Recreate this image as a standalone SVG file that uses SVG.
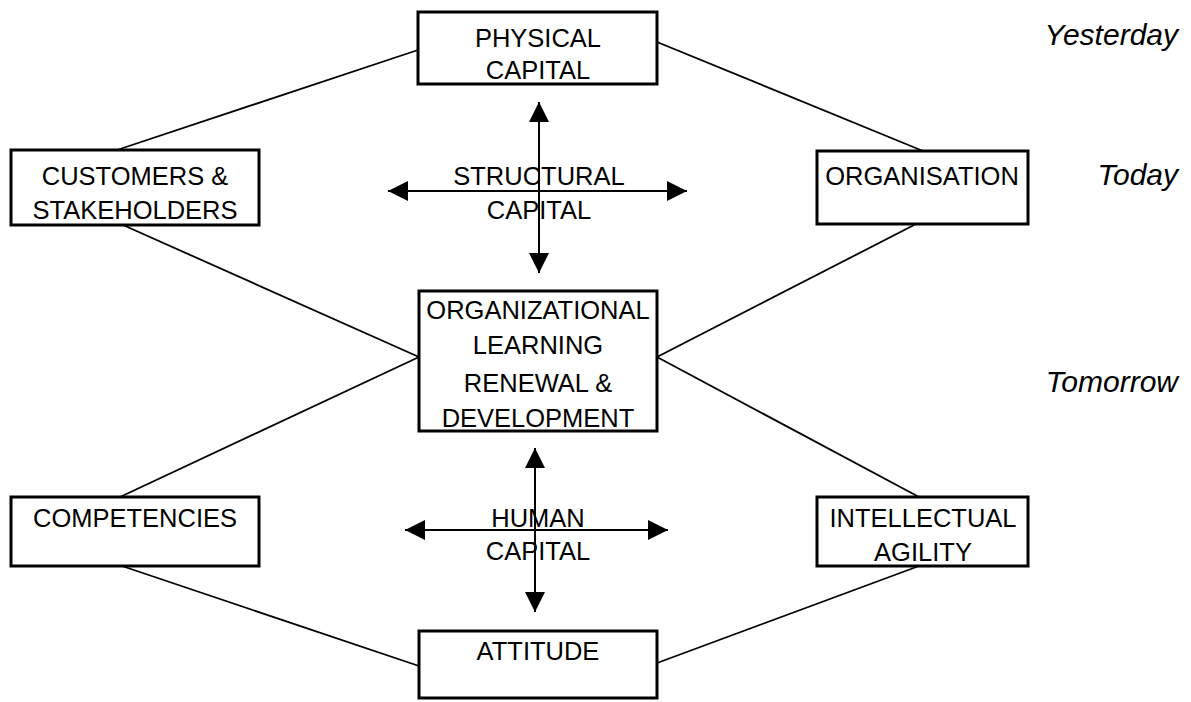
<svg xmlns="http://www.w3.org/2000/svg" width="1191" height="702" viewBox="0 0 1191 702">
  <style>
    .box { fill: #ffffff; stroke: #000000; stroke-width: 3; }
    .lbl { font-family: "Liberation Sans", Arial, sans-serif; font-size: 25.5px; fill: #000000; text-anchor: middle; }
    .time { font-family: "Liberation Sans", Arial, sans-serif; font-size: 30px; font-style: italic; fill: #000000; text-anchor: end; }
    .conn { stroke: #000000; stroke-width: 1.8; fill: none; }
    .arr { stroke: #000000; stroke-width: 2; fill: none; marker-start: url(#head); marker-end: url(#head); }
  </style>
  <defs>
    <marker id="head" viewBox="0 0 20 20" refX="20" refY="10" markerWidth="20" markerHeight="20" markerUnits="userSpaceOnUse" orient="auto-start-reverse">
      <path d="M0,0 L20,10 L0,20 Z" fill="#000000"/>
    </marker>
  </defs>
  <rect width="1191" height="702" fill="#ffffff"/>

  <g id="connectors">
    <line class="conn" x1="117" y1="150" x2="418" y2="50"/>
    <line class="conn" x1="657" y1="42" x2="923" y2="151"/>
    <line class="conn" x1="123" y1="225" x2="419" y2="357"/>
    <line class="conn" x1="916" y1="224" x2="657" y2="357"/>
    <line class="conn" x1="419" y1="357" x2="120" y2="497"/>
    <line class="conn" x1="657" y1="357" x2="919" y2="497"/>
    <line class="conn" x1="122" y1="566" x2="419" y2="666"/>
    <line class="conn" x1="919" y1="566" x2="657" y2="663"/>
  </g>

  <g id="physical-capital">
    <rect class="box" x="418" y="12" width="239" height="72"/>
    <text class="lbl" x="538" y="47">PHYSICAL</text>
    <text class="lbl" x="538" y="79">CAPITAL</text>
  </g>

  <g id="customers">
    <rect class="box" x="11" y="150" width="248" height="75"/>
    <text class="lbl" x="135" y="185">CUSTOMERS &amp;</text>
    <text class="lbl" x="135" y="219">STAKEHOLDERS</text>
  </g>

  <g id="organisation">
    <rect class="box" x="817" y="151" width="211" height="73"/>
    <text class="lbl" x="922" y="185">ORGANISATION</text>
  </g>

  <g id="structural-capital">
    <text class="lbl" x="539" y="185">STRUCTURAL</text>
    <text class="lbl" x="539" y="219">CAPITAL</text>
    <line class="arr" x1="539" y1="102" x2="539" y2="273"/>
    <line class="arr" x1="388" y1="191" x2="687" y2="191"/>
  </g>

  <g id="organizational-learning">
    <rect class="box" x="419" y="291" width="238" height="140"/>
    <text class="lbl" x="538" y="319">ORGANIZATIONAL</text>
    <text class="lbl" x="538" y="354">LEARNING</text>
    <text class="lbl" x="538" y="392">RENEWAL &amp;</text>
    <text class="lbl" x="538" y="427">DEVELOPMENT</text>
  </g>

  <g id="human-capital">
    <text class="lbl" x="538" y="527">HUMAN</text>
    <text class="lbl" x="538" y="560">CAPITAL</text>
    <line class="arr" x1="535" y1="448" x2="535" y2="612"/>
    <line class="arr" x1="405" y1="530" x2="668" y2="530"/>
  </g>

  <g id="competencies">
    <rect class="box" x="11" y="497" width="248" height="69"/>
    <text class="lbl" x="135" y="527">COMPETENCIES</text>
  </g>

  <g id="intellectual-agility">
    <rect class="box" x="817" y="497" width="211" height="69"/>
    <text class="lbl" x="923" y="527">INTELLECTUAL</text>
    <text class="lbl" x="923" y="561">AGILITY</text>
  </g>

  <g id="attitude">
    <rect class="box" x="419" y="631" width="238" height="67"/>
    <text class="lbl" x="538" y="660">ATTITUDE</text>
  </g>

  <g id="timeline">
    <text class="time" x="1178" y="45">Yesterday</text>
    <text class="time" x="1178" y="185">Today</text>
    <text class="time" x="1178" y="392">Tomorrow</text>
  </g>
</svg>
